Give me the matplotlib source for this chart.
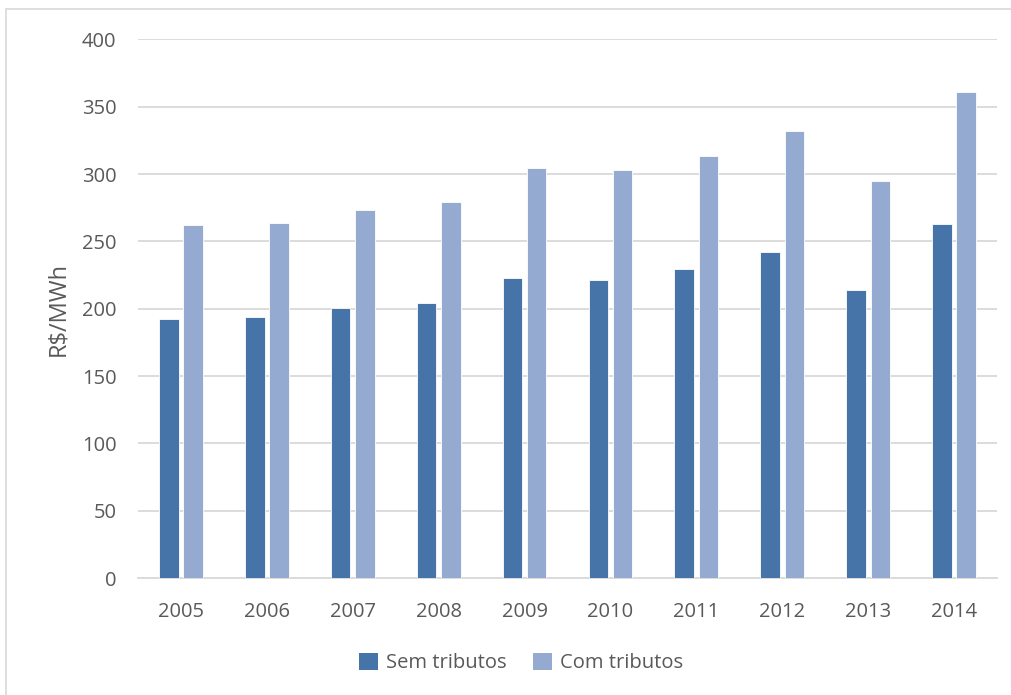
import matplotlib
matplotlib.use("Agg")
import matplotlib.pyplot as plt
import numpy as np

years = ["2005", "2006", "2007", "2008", "2009", "2010", "2011", "2012", "2013", "2014"]
sem_tributos = [192.3, 193.8, 200.5, 204.2, 222.8, 221.3, 229.2, 241.9, 213.6, 262.6]
com_tributos = [262.1, 263.8, 273.3, 279.4, 304.2, 303.2, 313.1, 332.2, 294.8, 361.1]
yticks = [0, 50, 100, 150, 200, 250, 300, 350, 400]

plt.rcParams['font.family'] = ['Open Sans', 'DejaVu Sans']
text_color = '#595959'
grid_color = '#D9D9D9'
c_sem = '#4674A8'
c_com = '#95AAD1'

fig = plt.figure(figsize=(10.11, 6.95), dpi=100)
ax = fig.add_axes([0.1365, 0.1683, 0.8497, 0.7749])

x = np.arange(len(years))
w = 0.228
off = 0.141
ax.bar(x - off, sem_tributos, w, color=c_sem, edgecolor='white', linewidth=0.6,
       label='Sem tributos', zorder=3)
ax.bar(x + off, com_tributos, w, color=c_com, edgecolor='white', linewidth=0.6,
       label='Com tributos', zorder=3)

ax.set_xlim(-0.5, len(years) - 0.5)
ax.set_ylim(0, 400)
ax.set_yticks(yticks)
ax.set_xticks(x)
ax.set_xticklabels(years)
ax.yaxis.grid(True, color=grid_color, linewidth=1.3, zorder=0)
ax.set_axisbelow(True)
for s in ['top', 'right', 'left']:
    ax.spines[s].set_visible(False)
ax.spines['bottom'].set_color(grid_color)
ax.spines['bottom'].set_linewidth(1.3)
ax.tick_params(axis='both', length=0, labelsize=14.5, colors=text_color)
ax.tick_params(axis='y', pad=15.5)
ax.tick_params(axis='x', pad=17.5)
ax.set_ylabel('R$/MWh', fontsize=17, color=text_color, va='center')
ax.yaxis.set_label_coords(-0.093, 0.5)

leg = fig.legend(loc='center', bbox_to_anchor=(0.515, 0.046), ncol=2, frameon=False,
                 fontsize=14.5, handlelength=0.95, handleheight=0.95,
                 handletextpad=0.4, columnspacing=1.3, labelcolor=text_color)
for h in leg.legend_handles:
    h.set_edgecolor('none')

# outer chart frame
frame = plt.Rectangle((0.006, -0.01), 1.2, 0.997, transform=fig.transFigure,
                      fill=False, edgecolor=grid_color, linewidth=1.2)
fig.patches.append(frame)

fig.savefig('out.png', dpi=100)
